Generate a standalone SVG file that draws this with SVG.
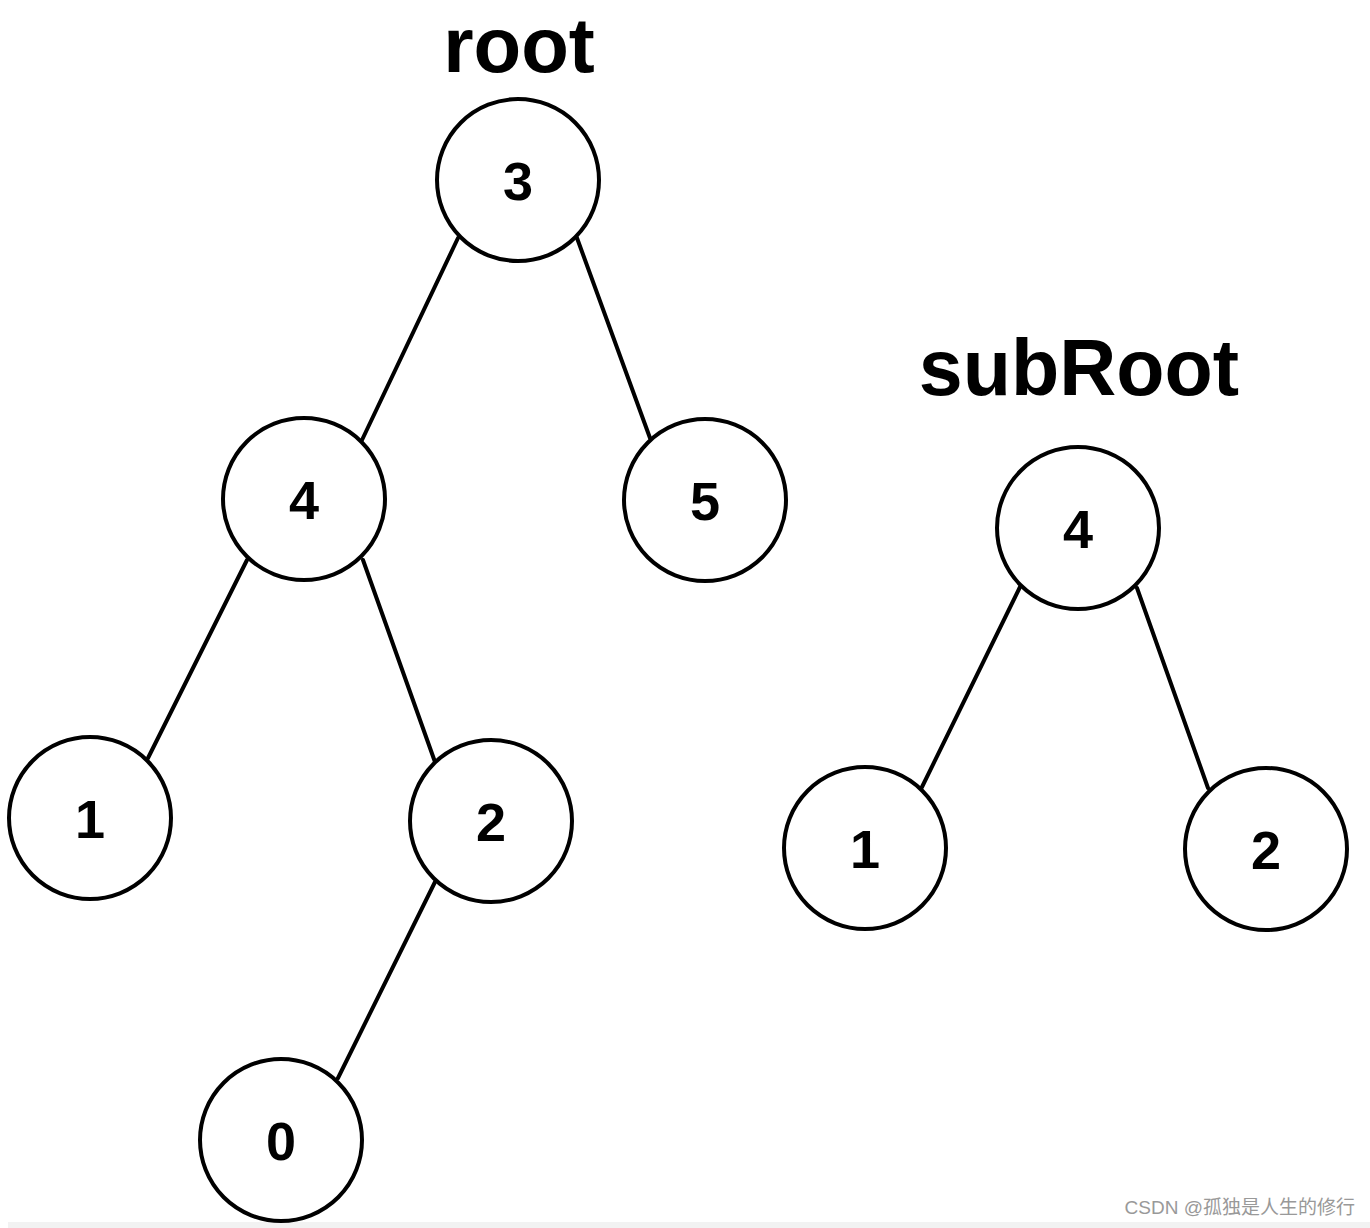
<svg xmlns="http://www.w3.org/2000/svg" width="1370" height="1228" viewBox="0 0 1370 1228">
<style>
.n circle{fill:#fff;stroke:#000;stroke-width:4}
.n text{font-family:"Liberation Sans",Arial,sans-serif;font-weight:bold;font-size:54px;text-anchor:middle;fill:#000}
.lbl{font-family:"Liberation Sans",Arial,sans-serif;font-weight:bold;text-anchor:middle;fill:#000}
#edges line{stroke:#000;stroke-width:4;stroke-linecap:round}
</style>
<rect width="1370" height="1228" fill="#fff"/>
<rect x="8" y="1222" width="1362" height="6" fill="#f2f2f2"/>
<text class="lbl" x="519" y="72" font-size="78">root</text>
<text class="lbl" x="1079" y="395" font-size="79">subRoot</text>
<g id="edges">
<line x1="458" y1="238" x2="362" y2="440"/>
<line x1="577" y1="238" x2="650" y2="438"/>
<line x1="247" y1="560" x2="148" y2="758"/>
<line x1="363" y1="560" x2="435" y2="762"/>
<line x1="435" y1="882" x2="338" y2="1078"/>
<line x1="1020" y1="587" x2="922" y2="787"/>
<line x1="1137" y1="588" x2="1208" y2="788"/>
</g>
<g id="n3" class="n"><circle cx="518" cy="180" r="81"/><text x="518" y="200">3</text></g>
<g id="n4" class="n"><circle cx="304" cy="499" r="81"/><text x="304" y="519">4</text></g>
<g id="n5" class="n"><circle cx="705" cy="500" r="81"/><text x="705" y="520">5</text></g>
<g id="n1" class="n"><circle cx="90" cy="818" r="81"/><text x="90" y="838">1</text></g>
<g id="n2" class="n"><circle cx="491" cy="821" r="81"/><text x="491" y="841">2</text></g>
<g id="n0" class="n"><circle cx="281" cy="1140" r="81"/><text x="281" y="1160">0</text></g>
<g id="s4" class="n"><circle cx="1078" cy="528" r="81"/><text x="1078" y="548">4</text></g>
<g id="s1" class="n"><circle cx="865" cy="848" r="81"/><text x="865" y="868">1</text></g>
<g id="s2" class="n"><circle cx="1266" cy="849" r="81"/><text x="1266" y="869">2</text></g>
<text x="1355" y="1214" font-family="'Liberation Sans','Noto Sans CJK SC',sans-serif" font-size="19" fill="#999" text-anchor="end">CSDN @孤独是人生的修行</text>
</svg>
